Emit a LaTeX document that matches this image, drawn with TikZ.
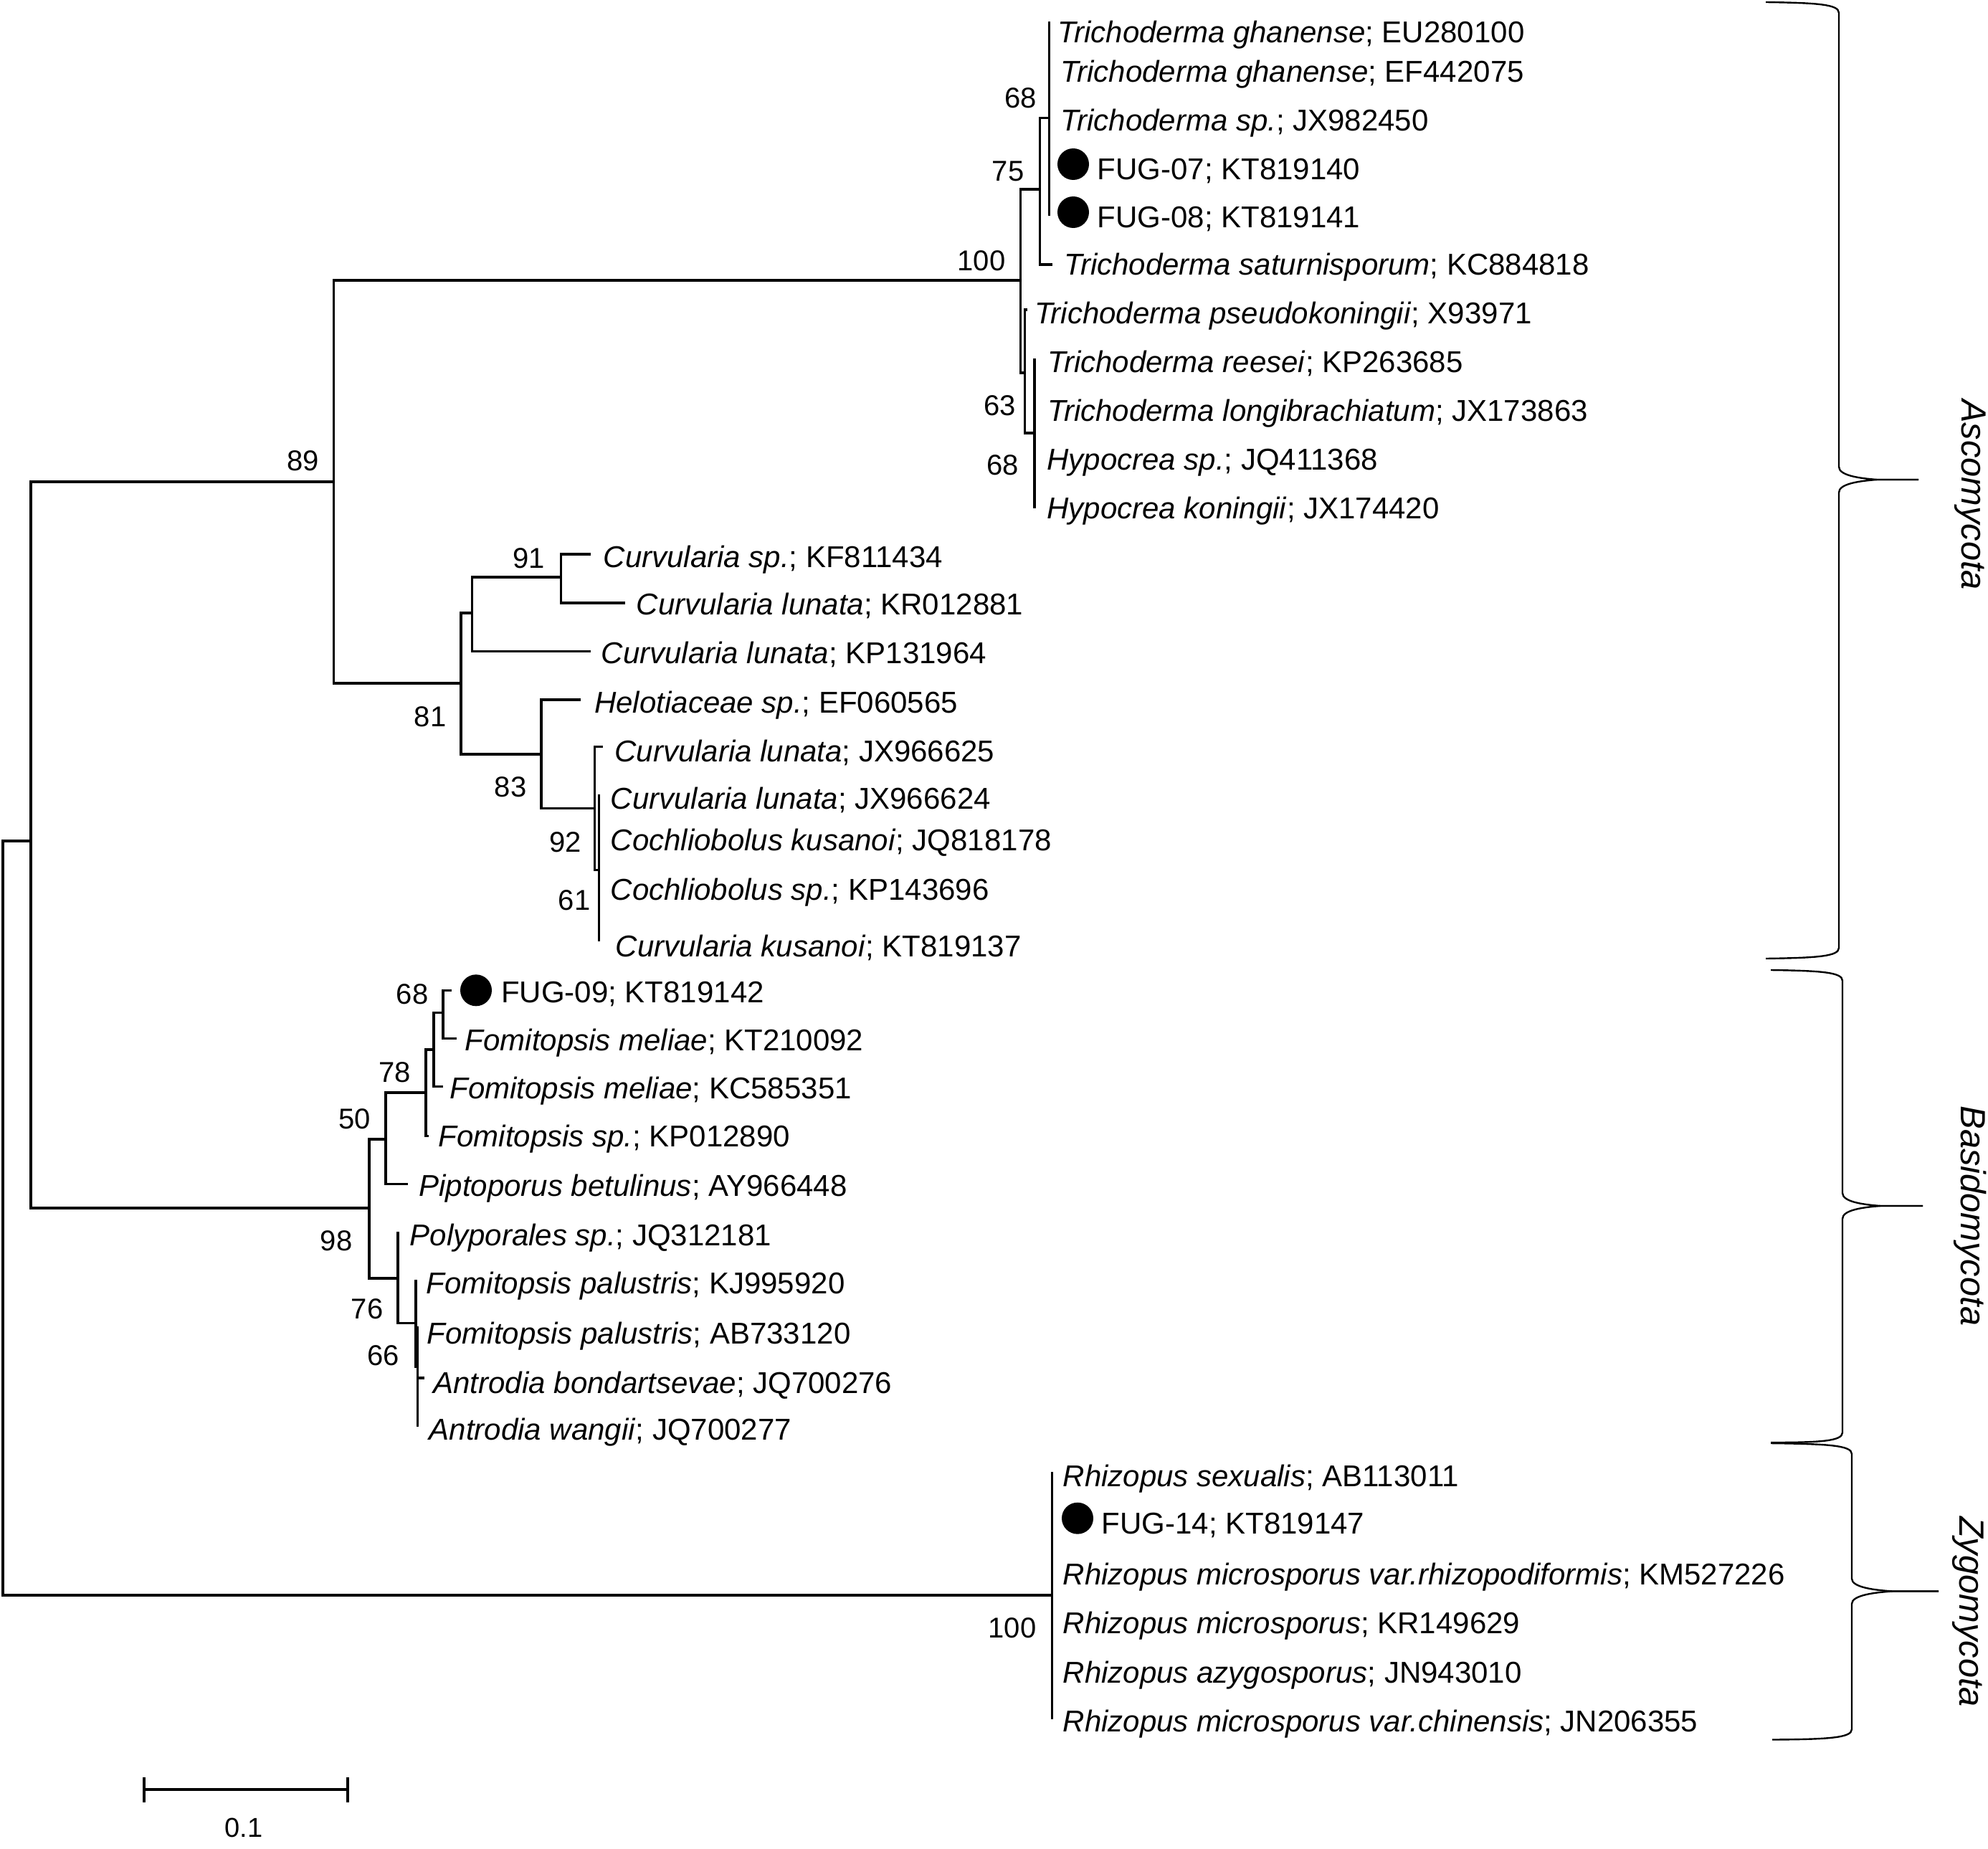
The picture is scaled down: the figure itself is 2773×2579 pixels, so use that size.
\documentclass[tikz,border=0pt]{standalone}
\usepackage{fontspec}
\setmainfont{Liberation Sans}
\begin{document}
\begin{tikzpicture}[x=0.25pt,y=-0.25pt,
 br/.style={line width=0.9pt},
 lab/.style={anchor=west, inner sep=0pt, font=\fontsize{10.5}{12}\selectfont, text height=7.5pt, text depth=0pt},
 bs/.style={inner sep=0pt, font=\fontsize{10}{12}\selectfont, text height=7.2pt, text depth=0pt},
 dot/.style={circle, fill=black, inner sep=0pt, minimum size=11pt},
 bracepath/.style={line width=0.6pt},
 phy/.style={font=\fontsize{12.2}{14}\selectfont\itshape, rotate=-90, inner sep=0pt}]
\useasboundingbox (0,0) rectangle (2773,2579);

% ---------- tree coordinates ----------
\coordinate (root) at (4,1699);
\coordinate (nA) at (43,1173);
\coordinate (nZ) at (1467.5,2225);
\coordinate (n89) at (465.5,672);
\coordinate (n98) at (514.8,1685);
% Trichoderma clade
\coordinate (n100) at (1423.3,391);
\coordinate (n75) at (1450.4,264);
\coordinate (nLow) at (1429.3,520);
\coordinate (n68a) at (1463.6,164.7);
\coordinate (tSat) at (1467.6,368.7);
\coordinate (t1) at (1463.6,30);
\coordinate (t2) at (1463.6,99);
\coordinate (t3) at (1463.6,167);
\coordinate (t4) at (1463.6,235);
\coordinate (t5) at (1463.6,301);
\coordinate (tPseudo) at (1433,431.7);
\coordinate (n63) at (1442.7,604);
\coordinate (t8) at (1442.7,500);
\coordinate (t9) at (1442.7,572);
\coordinate (t10) at (1442.7,641);
\coordinate (t11) at (1442.7,708.7);
% Curvularia clade
\coordinate (n81) at (643,953);
\coordinate (nC1) at (658.6,854.7);
\coordinate (n83) at (755,1051.7);
\coordinate (n91) at (782.5,805);
\coordinate (t12) at (823.9,773);
\coordinate (t13) at (871.5,841);
\coordinate (t14) at (823.9,908.6);
\coordinate (t15) at (809.5,975.8);
\coordinate (n92) at (829.6,1127.5);
\coordinate (t16) at (841,1041.3);
\coordinate (n61) at (835.4,1213.4);
\coordinate (t17) at (835.4,1107.6);
\coordinate (t18) at (835.4,1172);
\coordinate (t19) at (835.4,1240);
\coordinate (t20) at (835.4,1312.9);
% Basidiomycota clade
\coordinate (n50) at (537.8,1588.9);
\coordinate (nP) at (555,1783);
\coordinate (n78) at (594,1524.2);
\coordinate (t25) at (569.3,1651.4);
\coordinate (nF) at (605,1463.9);
\coordinate (t24) at (598,1584.5);
\coordinate (n68b) at (618,1412.6);
\coordinate (t23) at (618,1515.3);
\coordinate (t21) at (629.6,1381.3);
\coordinate (t22) at (636.5,1448.3);
\coordinate (t26) at (555,1717.5);
\coordinate (n76) at (580,1845.6);
\coordinate (t27) at (580,1784.5);
\coordinate (n66) at (582.5,1906);
\coordinate (t28) at (582.5,1850);
\coordinate (t29) at (591.7,1921.7);
\coordinate (t30) at (582.5,1990);
% Zygomycota
\coordinate (t31) at (1467.5,2052.8);
\coordinate (t36) at (1467.5,2397.6);

% ---------- branches ----------
\draw[br] (root) |- (nA);
\draw[br] (root) |- (nZ);
\draw[br] (nA) |- (n89);
\draw[br] (nA) |- (n98);
\draw[br] (n89) |- (n100);
\draw[br] (n89) |- (n81);
\draw[br] (n100) |- (n75);
\draw[br] (n100) |- (nLow);
\draw[br] (n75) |- (n68a);
\draw[br] (n75) |- (tSat);
\draw[br] (n68a) |- (t1);
\draw[br] (n68a) |- (t2);
\draw[br] (n68a) |- (t3);
\draw[br] (n68a) |- (t4);
\draw[br] (n68a) |- (t5);
\draw[br] (nLow) |- (tPseudo);
\draw[br] (nLow) |- (n63);
\draw[br] (n63) |- (t8);
\draw[br] (n63) |- (t9);
\draw[br] (n63) |- (t10);
\draw[br] (n63) |- (t11);
\draw[br] (n81) |- (nC1);
\draw[br] (n81) |- (n83);
\draw[br] (nC1) |- (n91);
\draw[br] (nC1) |- (t14);
\draw[br] (n91) |- (t12);
\draw[br] (n91) |- (t13);
\draw[br] (n83) |- (t15);
\draw[br] (n83) |- (n92);
\draw[br] (n92) |- (t16);
\draw[br] (n92) |- (n61);
\draw[br] (n61) |- (t17);
\draw[br] (n61) |- (t18);
\draw[br] (n61) |- (t19);
\draw[br] (n61) |- (t20);
\draw[br] (n98) |- (n50);
\draw[br] (n98) |- (nP);
\draw[br] (n50) |- (n78);
\draw[br] (n50) |- (t25);
\draw[br] (n78) |- (nF);
\draw[br] (n78) |- (t24);
\draw[br] (nF) |- (n68b);
\draw[br] (nF) |- (t23);
\draw[br] (n68b) |- (t21);
\draw[br] (n68b) |- (t22);
\draw[br] (nP) |- (t26);
\draw[br] (nP) |- (n76);
\draw[br] (n76) |- (t27);
\draw[br] (n76) |- (n66);
\draw[br] (n66) |- (t28);
\draw[br] (n66) |- (t29);
\draw[br] (n66) |- (t30);
\draw[br] (nZ) |- (t31);
\draw[br] (nZ) |- (t36);

% ---------- tip labels ----------
\node[lab] (L1) at (1475,44.5) {\textit{Trichoderma ghanense}; EU280100};
\node[lab] (L2) at (1479,99.4) {\textit{Trichoderma ghanense}; EF442075};
\node[lab] (L3) at (1479,167.4) {\textit{Trichoderma sp.}; JX982450};
\node[dot] (D4) at (1497,229) {};
\node[lab] (L4) at (1530,235.4) {FUG-07; KT819140};
\node[dot] (D5) at (1497,296) {};
\node[lab] (L5) at (1530,302.3) {FUG-08; KT819141};
\node[lab] (L6) at (1483.7,368.7) {\textit{Trichoderma saturnisporum}; KC884818};
\node[lab] (L7) at (1442.4,436.7) {\textit{Trichoderma pseudokoningii}; X93971};
\node[lab] (L8) at (1460.7,504.7) {\textit{Trichoderma reesei}; KP263685};
\node[lab] (L9) at (1460.7,572.7) {\textit{Trichoderma longibrachiatum}; JX173863};
\node[lab] (L10) at (1459.6,640.7) {\textit{Hypocrea sp.}; JQ411368};
\node[lab] (L11) at (1459.6,708.7) {\textit{Hypocrea koningii}; JX174420};
\node[lab] (L12) at (841,776) {\textit{Curvularia sp.}; KF811434};
\node[lab] (L13) at (887,842.3) {\textit{Curvularia lunata}; KR012881};
\node[lab] (L14) at (838,910.7) {\textit{Curvularia lunata}; KP131964};
\node[lab] (L15) at (828.5,979) {\textit{Helotiaceae sp.}; EF060565};
\node[lab] (L16) at (856.6,1047.5) {\textit{Curvularia lunata}; JX966625};
\node[lab] (L17) at (851,1113.9) {\textit{Curvularia lunata}; JX966624};
\node[lab] (L18) at (851,1171.9) {\textit{Cochliobolus kusanoi}; JQ818178};
\node[lab] (L19) at (851,1240.3) {\textit{Cochliobolus sp.}; KP143696};
\node[lab] (L20) at (858,1319) {\textit{Curvularia kusanoi}; KT819137};
\node[dot] (D21) at (664,1381.3) {};
\node[lab] (L21) at (698.5,1383.6) {FUG-09; KT819142};
\node[lab] (L22) at (648,1450.5) {\textit{Fomitopsis meliae}; KT210092};
\node[lab] (L23) at (626.7,1517.5) {\textit{Fomitopsis meliae}; KC585351};
\node[lab] (L24) at (611,1584.5) {\textit{Fomitopsis sp.}; KP012890};
\node[lab] (L25) at (583.7,1653.7) {\textit{Piptoporus betulinus}; AY966448};
\node[lab] (L26) at (571,1722.9) {\textit{Polyporales sp.}; JQ312181};
\node[lab] (L27) at (594,1789.8) {\textit{Fomitopsis palustris}; KJ995920};
\node[lab] (L28) at (595,1859) {\textit{Fomitopsis palustris}; AB733120};
\node[lab] (L29) at (603.8,1928.2) {\textit{Antrodia bondartsevae}; JQ700276};
\node[lab] (L30) at (598,1993) {\textit{Antrodia wangii}; JQ700277};
\node[lab] (L31) at (1482,2058.5) {\textit{Rhizopus sexualis}; AB113011};
\node[dot] (D32) at (1503,2117.7) {};
\node[lab] (L32) at (1536,2124.4) {FUG-14; KT819147};
\node[lab] (L33) at (1482,2195.4) {\textit{Rhizopus microsporus var.rhizopodiformis}; KM527226};
\node[lab] (L34) at (1482,2263) {\textit{Rhizopus microsporus}; KR149629};
\node[lab] (L35) at (1482,2332.3) {\textit{Rhizopus azygosporus}; JN943010};
\node[lab] (L36) at (1482,2400) {\textit{Rhizopus microsporus var.chinensis}; JN206355};

% ---------- bootstrap values ----------
\node[bs] (b1) at (1423.4,136) {68};
\node[bs] (b2) at (1406,238) {75};
\node[bs] (b3) at (1369,363.5) {100};
\node[bs] (b4) at (1394.7,565) {63};
\node[bs] (b5) at (1398.7,648.5) {68};
\node[bs] (b6) at (423,642) {89};
\node[bs] (b7) at (600,999) {81};
\node[bs] (b8) at (737.8,778) {91};
\node[bs] (b9) at (712,1097.3) {83};
\node[bs] (b10) at (788.3,1174) {92};
\node[bs] (b11) at (801,1254.8) {61};
\node[bs] (b12) at (575,1385.8) {68};
\node[bs] (b13) at (550.4,1495.2) {78};
\node[bs] (b14) at (494.7,1559.9) {50};
\node[bs] (b15) at (469,1729.6) {98};
\node[bs] (b16) at (512,1825.5) {76};
\node[bs] (b17) at (535,1890.3) {66};
\node[bs] (b18) at (1412,2269.8) {100};

% ---------- braces ----------
\draw[bracepath] (2463,3) .. controls (2535,4) and (2565,6) .. (2565,18)
  -- (2565,651) .. controls (2565,663) and (2592,667) .. (2618,669) -- (2676,669);
\draw[bracepath] (2676,669) -- (2618,669) .. controls (2592,671) and (2565,675) .. (2565,687)
  -- (2565,1322) .. controls (2565,1334) and (2535,1336) .. (2463,1337);
\draw[bracepath] (2470,1353) .. controls (2540,1354) and (2570,1356) .. (2570,1368)
  -- (2570,1664) .. controls (2570,1676) and (2597,1680) .. (2623,1682) -- (2682,1682);
\draw[bracepath] (2682,1682) -- (2623,1682) .. controls (2597,1684) and (2570,1688) .. (2570,1700)
  -- (2570,1998) .. controls (2570,2010) and (2540,2012) .. (2470,2012);
\draw[bracepath] (2470,2013) .. controls (2550,2014) and (2583,2016) .. (2583,2028)
  -- (2583,2202) .. controls (2583,2214) and (2615,2218) .. (2640,2219.5) -- (2704,2219.5);
\draw[bracepath] (2704,2219.5) -- (2640,2219.5) .. controls (2615,2221) and (2583,2225) .. (2583,2237)
  -- (2583,2412) .. controls (2583,2424) and (2550,2426) .. (2472,2426.5);
\node[phy] (P1) at (2748,690) {Ascomycota};
\node[phy] (P2) at (2748,1696) {Basidomycota};
\node[phy] (P3) at (2745,2248) {Zygomycota};

% ---------- scale bar ----------
\coordinate (s1) at (201,2496);
\coordinate (s2) at (485,2496);
\coordinate (s1a) at (201,2479);
\coordinate (s1b) at (201,2514);
\coordinate (s2a) at (485,2479);
\coordinate (s2b) at (485,2514);
\draw[line width=1pt] (s1) -- (s2);
\draw[line width=1pt] (s1a) -- (s1b);
\draw[line width=1pt] (s2a) -- (s2b);
\node[bs, font=\fontsize{9.5}{11}\selectfont] (sl) at (340,2548) {0.1};
\end{tikzpicture}
\end{document}
